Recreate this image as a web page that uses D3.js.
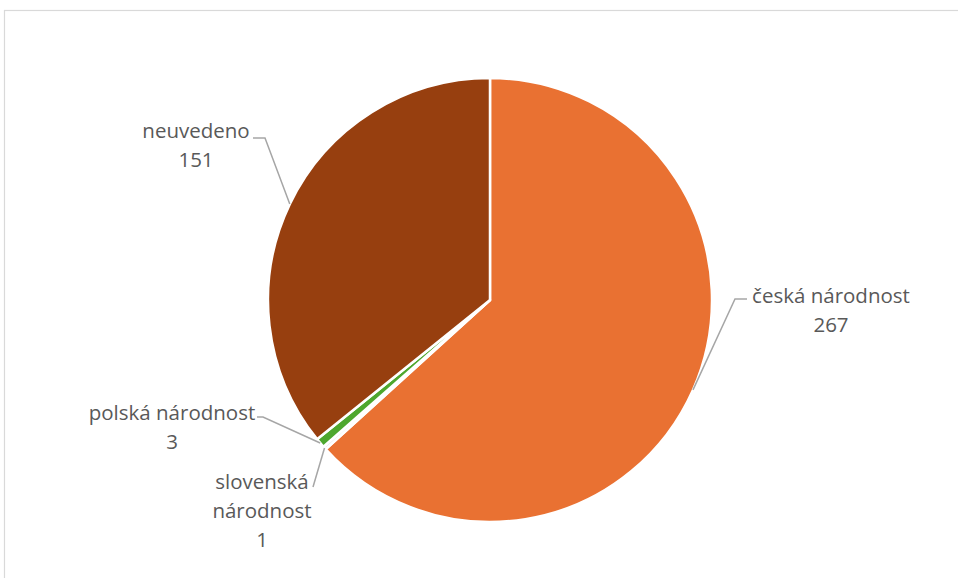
<!DOCTYPE html>
<html>
<head>
<meta charset="utf-8">
<script src="https://cdn.jsdelivr.net/npm/d3@7/dist/d3.min.js"></script>
<style>
  html, body { margin: 0; padding: 0; background: #fff; }
  svg { display: block; }
</style>
</head>
<body>
<svg id="chart" width="958" height="578"></svg>
<script>
// Data
const categories = ["česká národnost", "slovenská národnost", "polská národnost", "neuvedeno"];
const values = [267, 1, 3, 151];
const colors = ["#E97132", "#E8E8E8", "#4EA72E", "#973F0F"];

// Label layout (text lines, anchor of label block, elbow of leader)
const labelLines = [["česká národnost", "267"], ["slovenská", "národnost", "1"], ["polská národnost", "3"], ["neuvedeno", "151"]];
const labelLayout = [
  { x: 831, y: 303, lx: 747, ly: 299, ex: 735 },
  { x: 262, y: 489, lx: 313, ly: 487, ex: null },
  { x: 172, y: 420, lx: 257, ly: 417, ex: 263 },
  { x: 196, y: 138, lx: 253, ly: 138, ex: 265 }
];

const svg = d3.select("#chart");
const W = 958, H = 578;
const cx = 490, cy = 300, R = 222;

// chart area border
svg.append("rect")
  .attr("x", 4.5).attr("y", 10.5)
  .attr("width", W + 10).attr("height", H + 10)
  .attr("fill", "none").attr("stroke", "#d9d9d9").attr("stroke-width", 1.2);

const pie = d3.pie().sort(null).value(d => d)(values);
const arc = d3.arc().innerRadius(0).outerRadius(R);

const g = svg.append("g").attr("transform", `translate(${cx},${cy})`);
g.selectAll("path").data(pie).enter().append("path")
  .attr("d", arc)
  .attr("fill", (d, i) => colors[i])
  .attr("stroke", "#fff")
  .attr("stroke-width", 2.5)
  .attr("stroke-linejoin", "round");

// leader lines
pie.forEach((d, i) => {
  const a = (d.startAngle + d.endAngle) / 2;
  const px = cx + R * Math.sin(a);
  const py = cy - R * Math.cos(a);
  const L = labelLayout[i];
  const pts = L.ex === null ? [[L.lx, L.ly], [px, py]] : [[L.lx, L.ly], [L.ex, L.ly], [px, py]];
  svg.append("path")
    .attr("d", d3.line()(pts))
    .attr("fill", "none")
    .attr("stroke", "#a6a6a6")
    .attr("stroke-width", 1.5);
});

// labels
labelLines.forEach((lines, i) => {
  const L = labelLayout[i];
  const t = svg.append("text")
    .attr("text-anchor", "middle")
    .attr("font-family", "'Open Sans', 'Noto Sans', sans-serif")
    .attr("font-size", 20.5)
    .attr("fill", "#595959");
  lines.forEach((s, j) => {
    t.append("tspan").attr("x", L.x).attr("y", L.y + j * 29).text(s);
  });
});
</script>
</body>
</html>
